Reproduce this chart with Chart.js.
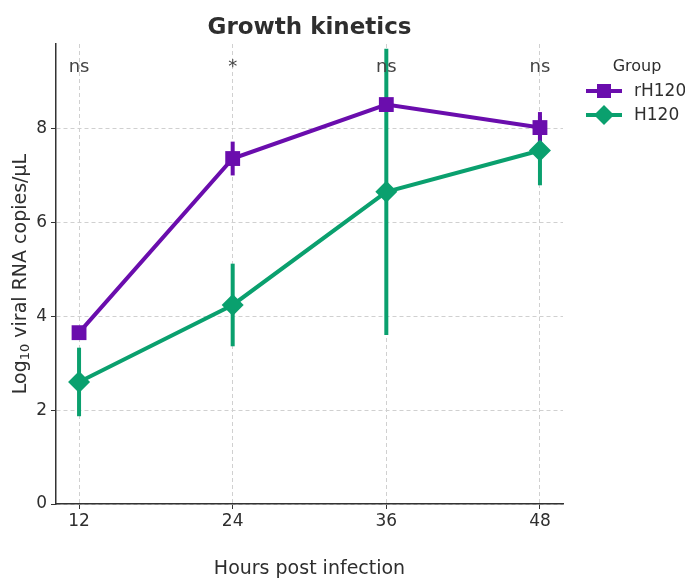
<!DOCTYPE html>
<html>
<head>
<meta charset="utf-8">
<script src="https://cdn.jsdelivr.net/npm/chart.js@4.4.1/dist/chart.umd.min.js"></script>
<style>
  html, body { margin: 0; padding: 0; background: #fff; }
  #wrap { width: 685px; height: 579px; }
</style>
</head>
<body>
<div id="wrap"><canvas id="mycanvas" width="685" height="579"></canvas></div>
<script>
// data
var hours = [12, 24, 36, 48];
var rH120 = [3.65, 7.36, 8.51, 8.02];
var rH120Err = [0.1, 0.36, 0.1, 0.33];
var h120 = [2.60, 4.24, 6.65, 7.53];
var h120Err = [0.73, 0.88, 3.05, 0.74];
var signif = ['ns', '*', 'ns', 'ns'];
var yTicks = [0, 2, 4, 6, 8];

var purple = '#6a0dad';
var green = '#0aa06e';
var textCol = '#2e2e2e';
var fontFam = '"DejaVu Sans", sans-serif';

function pts(ys) {
	var out = [];
	for (var i in hours) out.push({x: hours[i], y: ys[i]});
	return out;
}

// error bars under the lines
var errorBars = {
	id: 'errorBars',
	beforeDatasetsDraw: function(chart) {
		var ctx = chart.ctx, xs = chart.scales.x, ys = chart.scales.y;
		var sets = [[h120, h120Err, green], [rH120, rH120Err, purple]];
		ctx.save();
		ctx.lineWidth = 4;
		ctx.lineCap = 'butt';
		sets.forEach(function(s) {
			ctx.strokeStyle = s[2];
			for (var i = 0; i < hours.length; i++) {
				var px = xs.getPixelForValue(hours[i]);
				ctx.beginPath();
				ctx.moveTo(px, ys.getPixelForValue(s[0][i] - s[1][i]));
				ctx.lineTo(px, ys.getPixelForValue(s[0][i] + s[1][i]));
				ctx.stroke();
			}
		});
		ctx.restore();
	}
};

// title, axis titles, significance labels, legend
var extras = {
	id: 'extras',
	afterDraw: function(chart) {
		var ctx = chart.ctx, xs = chart.scales.x, ys = chart.scales.y, a = chart.chartArea;
		ctx.save();
		ctx.fillStyle = textCol;
		ctx.textAlign = 'center';
		ctx.textBaseline = 'middle';

		ctx.font = 'bold 23px ' + fontFam;
		ctx.fillText('Growth kinetics', (a.left + a.right) / 2, 28);

		ctx.font = '19px ' + fontFam;
		ctx.fillText('Hours post infection', (a.left + a.right) / 2, 569);

		// significance marks
		ctx.fillStyle = '#444';
		ctx.font = '18px ' + fontFam;
		for (var i = 0; i < hours.length; i++) {
			ctx.fillText(signif[i], xs.getPixelForValue(hours[i]), ys.getPixelForValue(9.3));
		}

		// y title with subscript
		ctx.fillStyle = textCol;
		ctx.translate(21, (a.top + a.bottom) / 2);
		ctx.rotate(-Math.PI / 2);
		ctx.textAlign = 'left';
		var big = '19px ' + fontFam, small = '13px ' + fontFam;
		ctx.font = big; var w1 = ctx.measureText('Log').width;
		ctx.font = small; var w2 = ctx.measureText('10').width;
		ctx.font = big; var w3 = ctx.measureText(' viral RNA copies/\u03bcL').width;
		var x0 = -(w1 + w2 + w3) / 2;
		ctx.fillText('Log', x0, 0);
		ctx.font = small;
		ctx.fillText('10', x0 + w1, 5);
		ctx.font = big;
		ctx.fillText(' viral RNA copies/\u03bcL', x0 + w1 + w2, 0);
		ctx.setTransform(1, 0, 0, 1, 0, 0);

		// legend
		ctx.textAlign = 'center';
		ctx.font = '16px ' + fontFam;
		ctx.fillText('Group', 637, 67);
		var items = [['rH120', purple, 'sq'], ['H120', green, 'dia']];
		items.forEach(function(it, k) {
			var y = 91 + k * 24;
			ctx.strokeStyle = it[1];
			ctx.fillStyle = it[1];
			ctx.lineWidth = 4;
			ctx.beginPath(); ctx.moveTo(586, y); ctx.lineTo(622, y); ctx.stroke();
			if (it[2] == 'sq') {
				ctx.fillRect(597, y - 7, 14, 14);
			} else {
				ctx.beginPath();
				ctx.moveTo(604, y - 10); ctx.lineTo(614, y); ctx.lineTo(604, y + 10); ctx.lineTo(594, y);
				ctx.closePath(); ctx.fill();
			}
			ctx.fillStyle = textCol;
			ctx.textAlign = 'left';
			ctx.font = '17px ' + fontFam;
			ctx.fillText(it[0], 634, y + 1);
		});
		ctx.restore();
	}
};

var chardata = {
	datasets: [
	{
		label: 'rH120',
		data: pts(rH120),
		borderColor: purple,
		backgroundColor: purple,
		borderWidth: 4,
		pointStyle: 'rect',
		pointRadius: 10.5,
		pointBorderWidth: 0,
		tension: 0
	},
	{
		label: 'H120',
		data: pts(h120),
		borderColor: green,
		backgroundColor: green,
		borderWidth: 4,
		pointStyle: 'rectRot',
		pointRadius: 11,
		pointBorderWidth: 0,
		tension: 0
	}
	]
};

var ctx = document.getElementById('mycanvas');
var LineGraph = new Chart(ctx, {
	type: 'line',
	data: chardata,
	plugins: [errorBars, extras],
	options: {
		responsive: false,
		animation: false,
		layout: { padding: { left: 0, right: 122, top: 44, bottom: 0 } },
		plugins: {
			legend: { display: false },
			title: { display: false },
			tooltip: { enabled: false }
		},
		scales: {
			x: {
				type: 'linear',
				min: 10.2,
				max: 49.8,
				afterBuildTicks: function(s) { s.ticks = hours.map(function(v) { return {value: v}; }); },
				afterFit: function(s) { s.height = 75; },
				grid: { color: '#d0d0d0', tickColor: '#333', tickLength: 5, lineWidth: 1 },
				border: { display: true, color: '#333', width: 1.5, dash: [4, 3] },
				ticks: { color: textCol, font: { family: fontFam, size: 17 }, padding: 2, maxRotation: 0 }
			},
			y: {
				min: 0,
				max: 9.8,
				afterBuildTicks: function(s) { s.ticks = yTicks.map(function(v) { return {value: v}; }); },
				afterFit: function(s) { s.width = 56; },
				grid: { color: '#d0d0d0', tickColor: '#333', tickLength: 5, lineWidth: 1 },
				border: { display: true, color: '#333', width: 1.5, dash: [4, 3] },
				ticks: { color: textCol, font: { family: fontFam, size: 17 }, padding: 4 }
			}
		}
	}
});
</script>
</body>
</html>
